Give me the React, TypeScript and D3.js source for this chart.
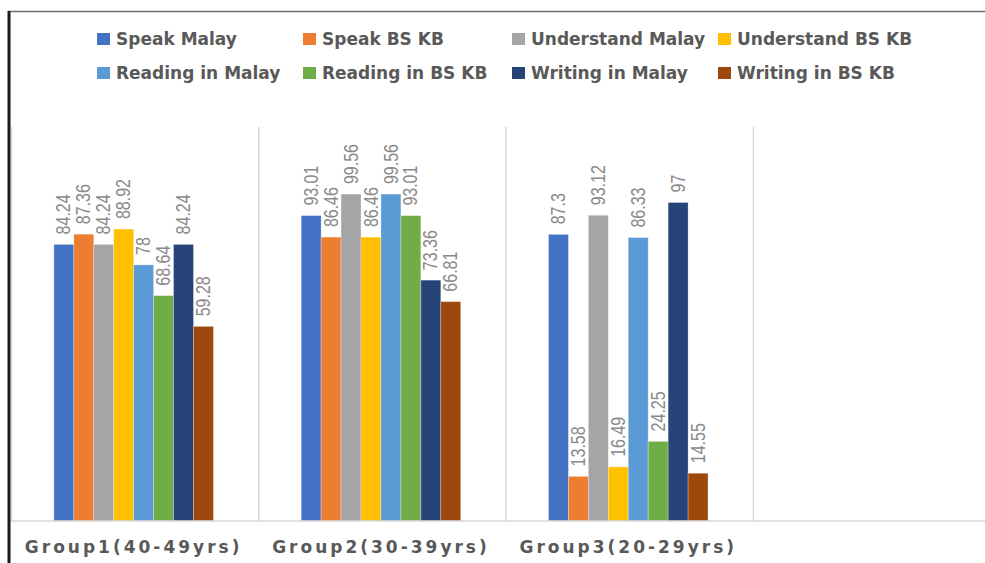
import React, { useEffect, useRef } from 'react';
import * as d3 from 'd3';

const groups = ['Group1(40-49yrs)', 'Group2(30-39yrs)', 'Group3(20-29yrs)', ''];
const seriesNames = [
    'Speak Malay', 'Speak BS KB', 'Understand Malay', 'Understand BS KB',
    'Reading in Malay', 'Reading in BS KB', 'Writing in Malay', 'Writing in BS KB',
];
const seriesColors = ['#4472C4', '#ED7D31', '#A5A5A5', '#FFC000', '#5B9BD5', '#70AD47', '#264478', '#9E480E'];

// values per group, in series order
const group1 = [84.24, 87.36, 84.24, 88.92, 78, 68.64, 84.24, 59.28];
const group2 = [93.01, 86.46, 99.56, 86.46, 99.56, 93.01, 73.36, 66.81];
const group3 = [87.3, 13.58, 93.12, 16.49, 86.33, 24.25, 97, 14.55];
const groupValues = [group1, group2, group3, []];

// legend layout: two rows of four
const legendCols = [97, 303, 512, 718];
const legendRows = [39, 73];

const App: React.FC = () => {
    const svgRef = useRef<SVGSVGElement>(null);

    useEffect(() => {
        document.body.style.margin = '0';
        if (!svgRef.current) return;
        const svg = d3.select(svgRef.current);
        svg.selectAll('*').remove();

        const width = 985;
        const height = 563;
        const baseY = 521;
        const topY = 127;

        svg.append('rect').attr('width', width).attr('height', height).attr('fill', 'white');

        const x0 = d3.scaleBand<string>()
            .domain(groups)
            .range([10, 10 + 4 * 247.3])
            .padding(0);

        const x1 = d3.scaleBand<string>()
            .domain(seriesNames)
            .range([0, x0.bandwidth()])
            .paddingInner(0)
            .paddingOuter(2.2);

        const y = d3.scaleLinear().domain([0, 120]).range([baseY, topY]);

        // vertical separators between categories
        const bounds = groups.map(g => x0(g) as number);
        svg.append('g')
            .selectAll('line')
            .data(bounds)
            .join('line')
            .attr('x1', d => d + 1.5).attr('x2', d => d + 1.5)
            .attr('y1', topY).attr('y2', baseY)
            .attr('stroke', '#d9d9d9')
            .attr('stroke-width', 1.5);

        // bars
        const gGroups = svg.append('g')
            .selectAll('g')
            .data(groups.map((g, i) => ({ g, vals: groupValues[i] })))
            .join('g')
            .attr('transform', d => `translate(${x0(d.g)},0)`);

        gGroups.selectAll('rect')
            .data(d => d.vals.map((v, i) => ({ name: seriesNames[i], v, c: seriesColors[i] })))
            .join('rect')
            .attr('x', d => x1(d.name) as number)
            .attr('y', d => y(d.v))
            .attr('width', x1.bandwidth())
            .attr('height', d => baseY - y(d.v))
            .attr('fill', d => d.c)
            .attr('stroke', 'rgba(255,255,255,0.35)')
            .attr('stroke-width', 0.8);

        // value labels, rotated
        gGroups.selectAll('text')
            .data(d => d.vals.map((v, i) => ({ name: seriesNames[i], v })))
            .join('text')
            .attr('transform', d => `translate(${(x1(d.name) as number) + x1.bandwidth() / 2},${y(d.v) - 10}) rotate(-90) scale(0.8,1)`)
            .attr('dominant-baseline', 'central')
            .attr('text-anchor', 'start')
            .attr('fill', '#8a8a8a')
            .style('font-family', '"Liberation Sans", Arial, sans-serif')
            .style('font-size', '20px')
            .text(d => String(d.v));

        // baseline
        svg.append('line')
            .attr('x1', 10).attr('x2', width)
            .attr('y1', baseY).attr('y2', baseY)
            .attr('stroke', '#d9d9d9')
            .attr('stroke-width', 1.5);

        // category labels
        svg.append('g')
            .selectAll('text')
            .data(groups)
            .join('text')
            .attr('x', d => (x0(d) as number) + x0.bandwidth() / 2)
            .attr('y', 553)
            .attr('text-anchor', 'middle')
            .attr('fill', '#595959')
            .style('font-family', '"DejaVu Sans", sans-serif')
            .style('font-weight', 'bold')
            .style('font-size', '17px')
            .style('letter-spacing', '3px')
            .text(d => d);

        // legend
        const legend = svg.append('g')
            .selectAll('g')
            .data(seriesNames)
            .join('g')
            .attr('transform', (d, i) => `translate(${legendCols[i % 4]},${legendRows[Math.floor(i / 4)]})`);

        legend.append('rect')
            .attr('x', 0).attr('y', -6)
            .attr('width', 13).attr('height', 12)
            .attr('fill', (d, i) => seriesColors[i]);

        legend.append('text')
            .attr('x', 19)
            .attr('y', 0)
            .attr('dominant-baseline', 'central')
            .attr('fill', '#595959')
            .style('font-family', '"DejaVu Sans", sans-serif')
            .style('font-weight', 'bold')
            .style('font-size', '17px')
            .text(d => d);

        // frame
        svg.append('line')
            .attr('x1', 8).attr('x2', width)
            .attr('y1', 11.5).attr('y2', 11.5)
            .attr('stroke', '#6b6b6b')
            .attr('stroke-width', 1.5);
        svg.append('line')
            .attr('x1', 9).attr('x2', 9)
            .attr('y1', 11).attr('y2', height)
            .attr('stroke', '#1a1a1a')
            .attr('stroke-width', 3);
    }, []);

    return <svg ref={svgRef} width={985} height={563} style={{ display: 'block' }} />;
};

export default App;
